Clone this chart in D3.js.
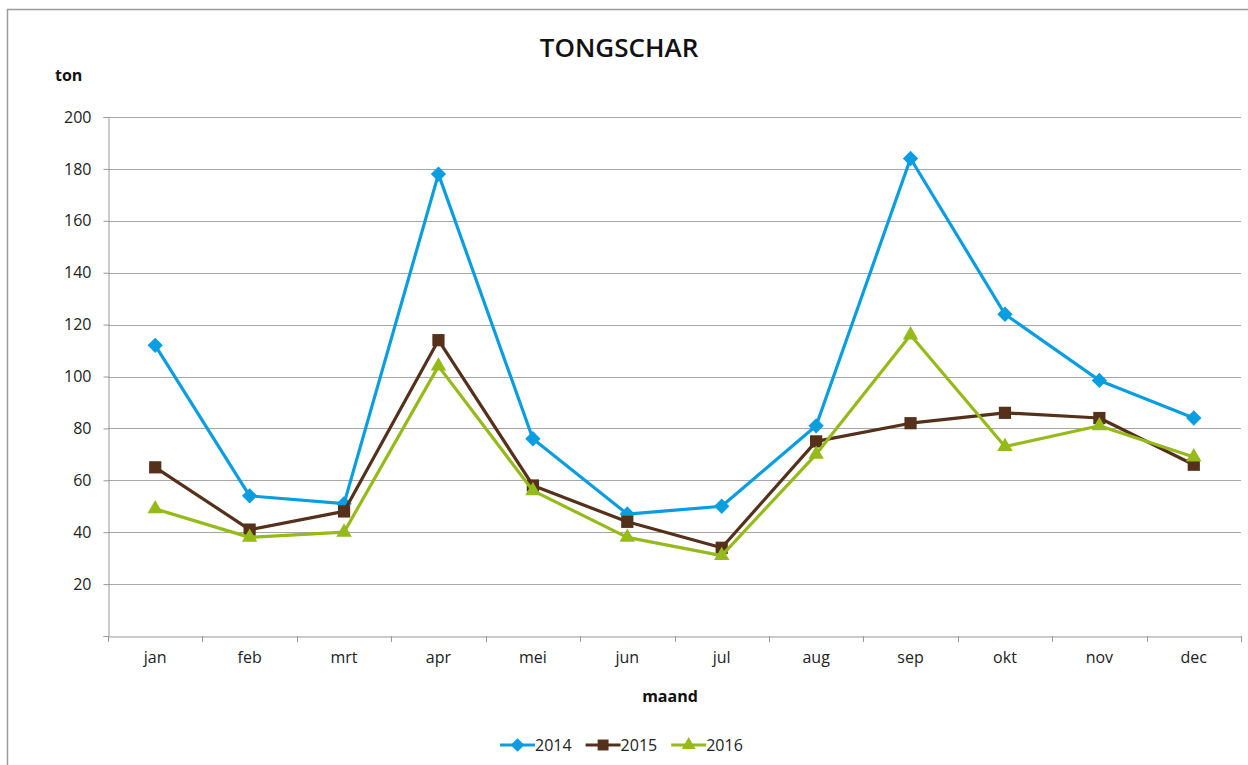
<!DOCTYPE html>
<html>
<head>
<meta charset="utf-8">
<script src="https://cdn.jsdelivr.net/npm/d3@7"></script>
<style>
  body { margin: 0; background: #fff; }
  text { font-family: "Open Sans", "Noto Sans", sans-serif; }
</style>
</head>
<body>
<div id="chart"></div>
<script>
// maanden en waarden per jaar (ton)
const months = ["jan", "feb", "mrt", "apr", "mei", "jun", "jul", "aug", "sep", "okt", "nov", "dec"];
const values2014 = [112, 54, 51, 178, 76, 47, 50, 81, 184, 124, 98.5, 84];
const values2015 = [65, 41, 48, 114, 58, 44, 34, 75, 82, 86, 84, 66];
const values2016 = [49, 38, 40, 104, 56, 38, 31, 70, 116, 73, 81, 69];
const yTicks = [20, 40, 60, 80, 100, 120, 140, 160, 180, 200];

const series = [
  { name: "2014", values: values2014, color: "#0a9ee0", symbol: d3.symbolDiamond2, size: 150 },
  { name: "2015", values: values2015, color: "#55301a", symbol: d3.symbolSquare2, size: 190 },
  { name: "2016", values: values2016, color: "#95ba19", symbol: d3.symbolTriangle2, size: 170 }
];

const W = 1248, H = 765;
const margin = { top: 117, right: 7, bottom: 129, left: 108 };
const width = W - margin.left - margin.right;
const height = H - margin.top - margin.bottom;

const svg = d3.select("#chart").append("svg")
  .attr("width", W)
  .attr("height", H);

// kader om de grafiek
svg.append("path")
  .attr("d", "M7.5," + H + " V9.5 H" + W)
  .attr("fill", "none")
  .attr("stroke", "#9a9a9a")
  .attr("stroke-width", 1.5);

const g = svg.append("g")
  .attr("transform", "translate(" + margin.left + "," + margin.top + ")");

const x = d3.scaleBand().domain(months).range([0, width]);
const y = d3.scaleLinear().domain([0, 200]).range([height, 0]);

// rasterlijnen
g.selectAll(".grid").data(yTicks).enter().append("line")
  .attr("x1", 0).attr("x2", width)
  .attr("y1", d => Math.round(y(d)) + 0.5).attr("y2", d => Math.round(y(d)) + 0.5)
  .attr("stroke", "#a6a6a6").attr("stroke-width", 1.2);

// y-as
const yAxis = g.append("g")
  .attr("transform", "translate(0.5,0)")
  .call(d3.axisLeft(y).tickValues([0].concat(yTicks)).tickSize(5).tickPadding(12)
    .tickFormat(d => d === 0 ? "" : d));
yAxis.select(".domain").attr("stroke", "#999");
yAxis.selectAll(".tick line").attr("stroke", "#999");
yAxis.selectAll("text").attr("font-size", 16).attr("fill", "#222");

// x-as
const xAxis = g.append("g")
  .attr("transform", "translate(0," + (height + 0.5) + ")")
  .call(d3.axisBottom(x).tickSize(0).tickPadding(15));
xAxis.select(".domain").attr("stroke", "#999");
xAxis.selectAll("text").attr("font-size", 16).attr("fill", "#222");
// tussenstreepjes op de x-as
g.selectAll(".xtick").data(months.concat(["end"])).enter().append("line")
  .attr("x1", (d, i) => Math.round(i * x.bandwidth()) + 0.5)
  .attr("x2", (d, i) => Math.round(i * x.bandwidth()) + 0.5)
  .attr("y1", height).attr("y2", height + 6)
  .attr("stroke", "#999");

const line = d3.line()
  .x((d, i) => x(months[i]) + x.bandwidth() / 2)
  .y(d => y(d));

series.forEach(s => {
  g.append("path")
    .datum(s.values)
    .attr("d", line)
    .attr("fill", "none")
    .attr("stroke", s.color)
    .attr("stroke-width", 3.2)
    .attr("stroke-linejoin", "round");
  g.selectAll(".m" + s.name).data(s.values).enter().append("path")
    .attr("d", d3.symbol().type(s.symbol).size(s.size))
    .attr("transform", (d, i) => "translate(" + (x(months[i]) + x.bandwidth() / 2) + "," + y(d) + ")")
    .attr("fill", s.color);
});

// titels
svg.append("text")
  .attr("x", 619).attr("y", 57)
  .attr("text-anchor", "middle")
  .attr("font-size", 26).attr("font-weight", 600)
  .attr("fill", "#111")
  .text("TONGSCHAR");

svg.append("text")
  .attr("x", 55).attr("y", 81)
  .attr("font-size", 16).attr("font-weight", "bold")
  .attr("fill", "#111")
  .text("ton");

svg.append("text")
  .attr("x", 670).attr("y", 702)
  .attr("text-anchor", "middle")
  .attr("font-size", 16).attr("font-weight", "bold")
  .attr("fill", "#111")
  .text("maand");

// legenda
const legend = svg.append("g").attr("transform", "translate(500,745)");
let lx = 0;
series.forEach(s => {
  const item = legend.append("g").attr("transform", "translate(" + lx + ",0)");
  item.append("line").attr("x1", 0).attr("x2", 35).attr("y1", 0).attr("y2", 0)
    .attr("stroke", s.color).attr("stroke-width", 3.2);
  item.append("path")
    .attr("d", d3.symbol().type(s.symbol).size(s.size * 0.8))
    .attr("transform", "translate(17.5,0)")
    .attr("fill", s.color);
  const t = item.append("text").attr("x", 35).attr("y", 6)
    .attr("font-size", 16).attr("fill", "#222").text(s.name);
  lx += 35 + t.node().getComputedTextLength() + 14;
});
</script>
</body>
</html>
